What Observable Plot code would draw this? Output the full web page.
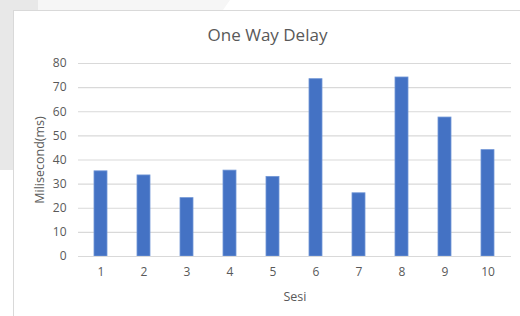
<!DOCTYPE html>
<html>
<head>
<meta charset="utf-8">
<script src="https://cdn.jsdelivr.net/npm/d3@7"></script>
<script src="https://cdn.jsdelivr.net/npm/@observablehq/plot@0.6"></script>
<style>
  html, body { margin: 0; padding: 0; width: 520px; height: 316px; overflow: hidden; background: #ffffff; font-family: "Open Sans", "Noto Sans", sans-serif; }
  #bgA { position: absolute; left: 0; top: 0; width: 38px; height: 170px; background: #e8e8e8; }
  #bgB { position: absolute; left: 38px; top: 0; width: 192px; height: 11px; background: #f6f6f6; clip-path: polygon(0 0, 100% 0, 96% 100%, 0 100%); }
  #box { position: absolute; left: 13px; top: 10px; width: 520px; height: 330px; background: #ffffff; border: 1px solid #d9d9d9; box-sizing: border-box; }
  #title { position: absolute; left: 0; top: 12px; width: 507px; text-align: center; font-size: 17px; color: #595959; }
  #chart { position: absolute; left: 0; top: 39px; }
</style>
</head>
<body>
<div id="bgA"></div>
<div id="bgB"></div>
<div id="box">
  <div id="title">One Way Delay</div>
  <div id="chart"></div>
</div>
<script>
const sessions = [1, 2, 3, 4, 5, 6, 7, 8, 9, 10];
const delays = [35.3, 33.6, 24.2, 35.6, 33.0, 73.5, 26.2, 74.2, 57.6, 44.1];
const yTicks = [0, 10, 20, 30, 40, 50, 60, 70, 80];

const data = sessions.map((s, i) => ({session: s, delay: delays[i]}));

const chart = Plot.plot({
  width: 507,
  height: 266,
  marginTop: 13,
  marginBottom: 60,
  marginLeft: 64,
  marginRight: 10,
  style: {fontFamily: "'Open Sans', 'Noto Sans', sans-serif", fontSize: "12px", color: "#595959", background: "transparent"},
  x: {domain: sessions, paddingInner: 0.69, paddingOuter: 0.345, label: "Sesi", labelAnchor: "center", labelOffset: 44, tickSize: 0, tickPadding: 11},
  y: {domain: [0, 80], ticks: yTicks, label: "Milisecond(ms)", labelArrow: "none", labelAnchor: "center", labelOffset: 43, tickSize: 0, tickPadding: 12},
  marks: [
    Plot.gridY(yTicks, {stroke: "#d9d9d9", strokeOpacity: 1, strokeWidth: 1.2}),
    Plot.barY(data, {x: "session", y: "delay", fill: "#4472c4", stroke: "#7196d6", strokeWidth: 0.8}),
    Plot.ruleY([0], {stroke: "#d9d9d9", strokeWidth: 1.2})
  ]
});
d3.select(chart).selectAll("[aria-label='y-axis label'] text, [aria-label='x-axis label'] text").style("font-size", "12.5px");
document.getElementById("chart").appendChild(chart);
</script>
</body>
</html>
